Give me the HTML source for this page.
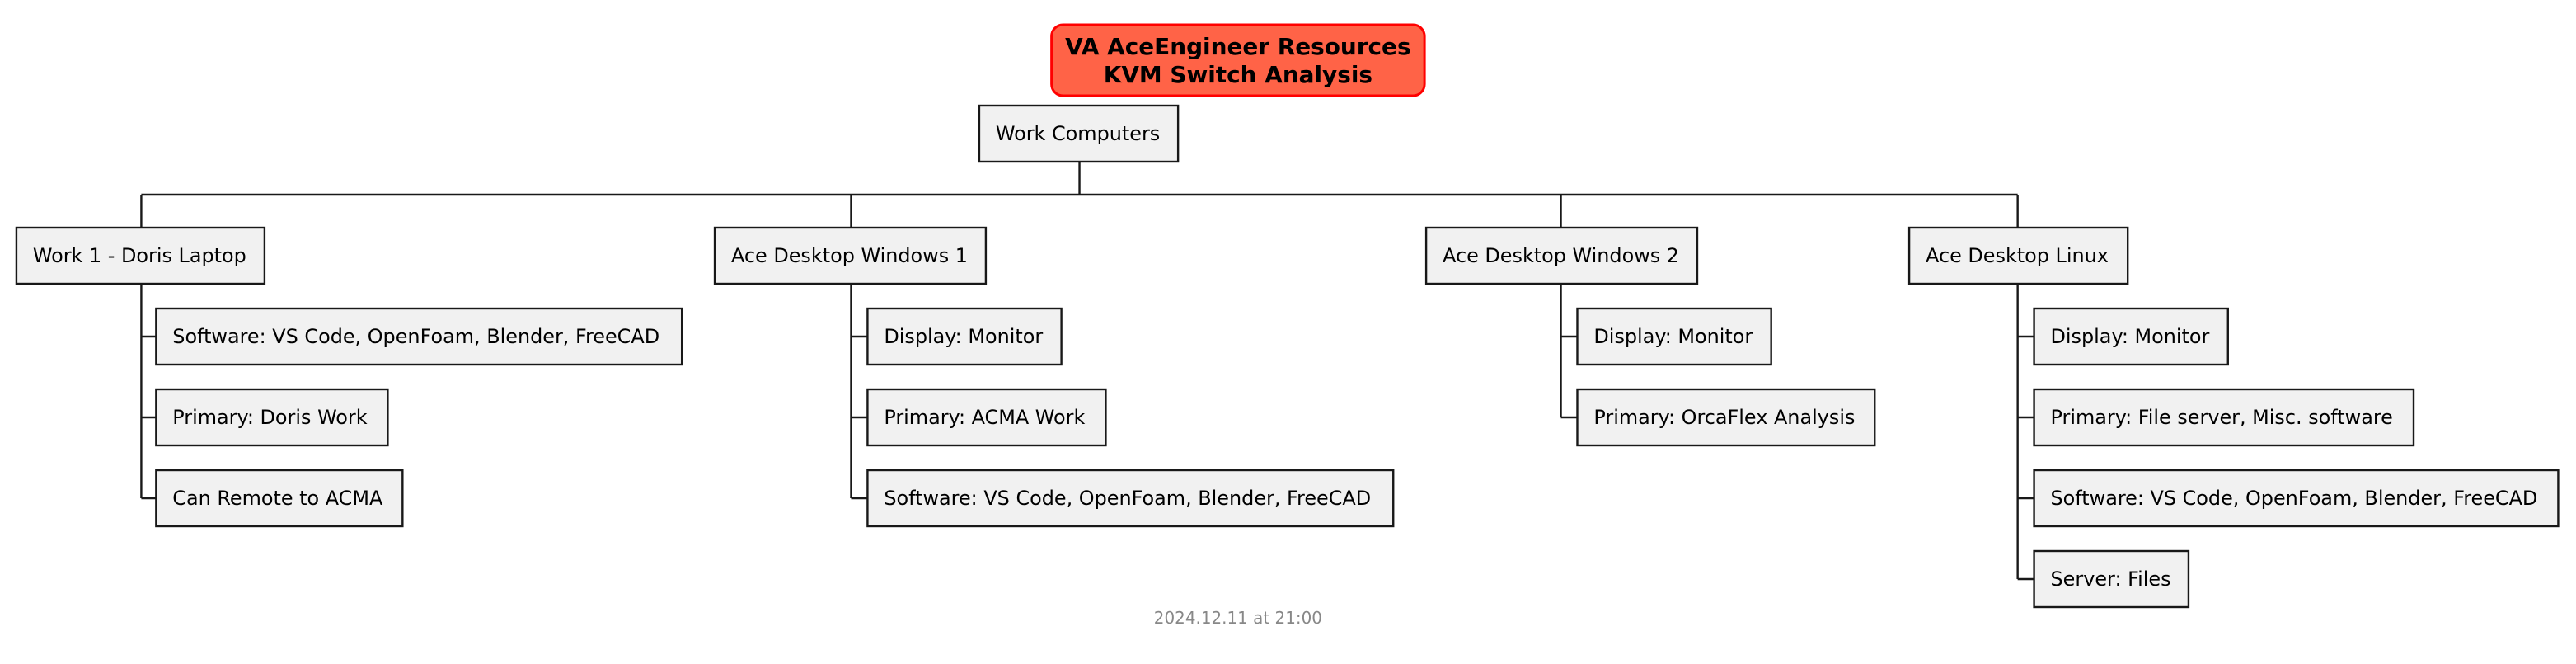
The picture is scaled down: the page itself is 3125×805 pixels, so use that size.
<!DOCTYPE html>
<html><head><meta charset="utf-8"><style>
html,body{margin:0;padding:0;background:#fff;}
svg{display:block;}
text{font-family:"DejaVu Sans","Liberation Sans",sans-serif;font-size:12px;fill:#000;}
</style></head><body>
<svg width="3125" height="805" viewBox="0 0 1562.5 402.5" xmlns="http://www.w3.org/2000/svg">
<g transform="scale(0.9966,1)">
<g fill="none" stroke="#181818" stroke-width="1.2">
<path d="M657 98V118M86 118H1228M86 118V138M518 118V138M950 118V138M1228 118V138"/>
<path d="M86 172V302M86 204H95M86 253H95M86 302H95"/>
<path d="M518 172V302M518 204H528M518 253H528M518 302H528"/>
<path d="M950 172V253M950 204H960M950 253H960"/>
<path d="M1228 172V351M1228 204H1238M1228 253H1238M1228 302H1238M1228 351H1238"/>
</g>
<rect x="640" y="15" width="227" height="43" rx="7" fill="#FF6347" stroke="#FF0000" stroke-width="1.5"/>
<text x="753.5" y="33" text-anchor="middle" style="font-weight:bold;font-size:14px">VA AceEngineer Resources</text>
<text x="753.5" y="50" text-anchor="middle" style="font-weight:bold;font-size:14px">KVM Switch Analysis</text>
<g fill="#F1F1F1" stroke="#181818" stroke-width="1.2">
<rect x="596" y="64" width="121" height="34"/>
<rect x="10" y="138" width="151" height="34"/>
<rect x="435" y="138" width="165" height="34"/>
<rect x="868" y="138" width="165" height="34"/>
<rect x="1162" y="138" width="133" height="34"/>
<rect x="95" y="187" width="320" height="34"/>
<rect x="95" y="236" width="141" height="34"/>
<rect x="95" y="285" width="150" height="34"/>
<rect x="528" y="187" width="118" height="34"/>
<rect x="528" y="236" width="145" height="34"/>
<rect x="528" y="285" width="320" height="34"/>
<rect x="960" y="187" width="118" height="34"/>
<rect x="960" y="236" width="181" height="34"/>
<rect x="1238" y="187" width="118" height="34"/>
<rect x="1238" y="236" width="231" height="34"/>
<rect x="1238" y="285" width="319" height="34"/>
<rect x="1238" y="334" width="94" height="34"/>
</g>
<text x="606" y="85">Work Computers</text>
<text x="20" y="159">Work 1 - Doris Laptop</text>
<text x="445" y="159">Ace Desktop Windows 1</text>
<text x="878" y="159">Ace Desktop Windows 2</text>
<text x="1172" y="159">Ace Desktop Linux</text>
<text x="105" y="208">Software: VS Code, OpenFoam, Blender, FreeCAD</text>
<text x="105" y="257">Primary: Doris Work</text>
<text x="105" y="306">Can Remote to ACMA</text>
<text x="538" y="208">Display: Monitor</text>
<text x="538" y="257">Primary: ACMA Work</text>
<text x="538" y="306">Software: VS Code, OpenFoam, Blender, FreeCAD</text>
<text x="970" y="208">Display: Monitor</text>
<text x="970" y="257">Primary: OrcaFlex Analysis</text>
<text x="1248" y="208">Display: Monitor</text>
<text x="1248" y="257">Primary: File server, Misc. software</text>
<text x="1248" y="306">Software: VS Code, OpenFoam, Blender, FreeCAD</text>
<text x="1248" y="355">Server: Files</text>
<text x="753.5" y="378" text-anchor="middle" style="font-size:10px;fill:#888">2024.12.11 at 21:00</text>
</g>
</svg>
</body></html>
